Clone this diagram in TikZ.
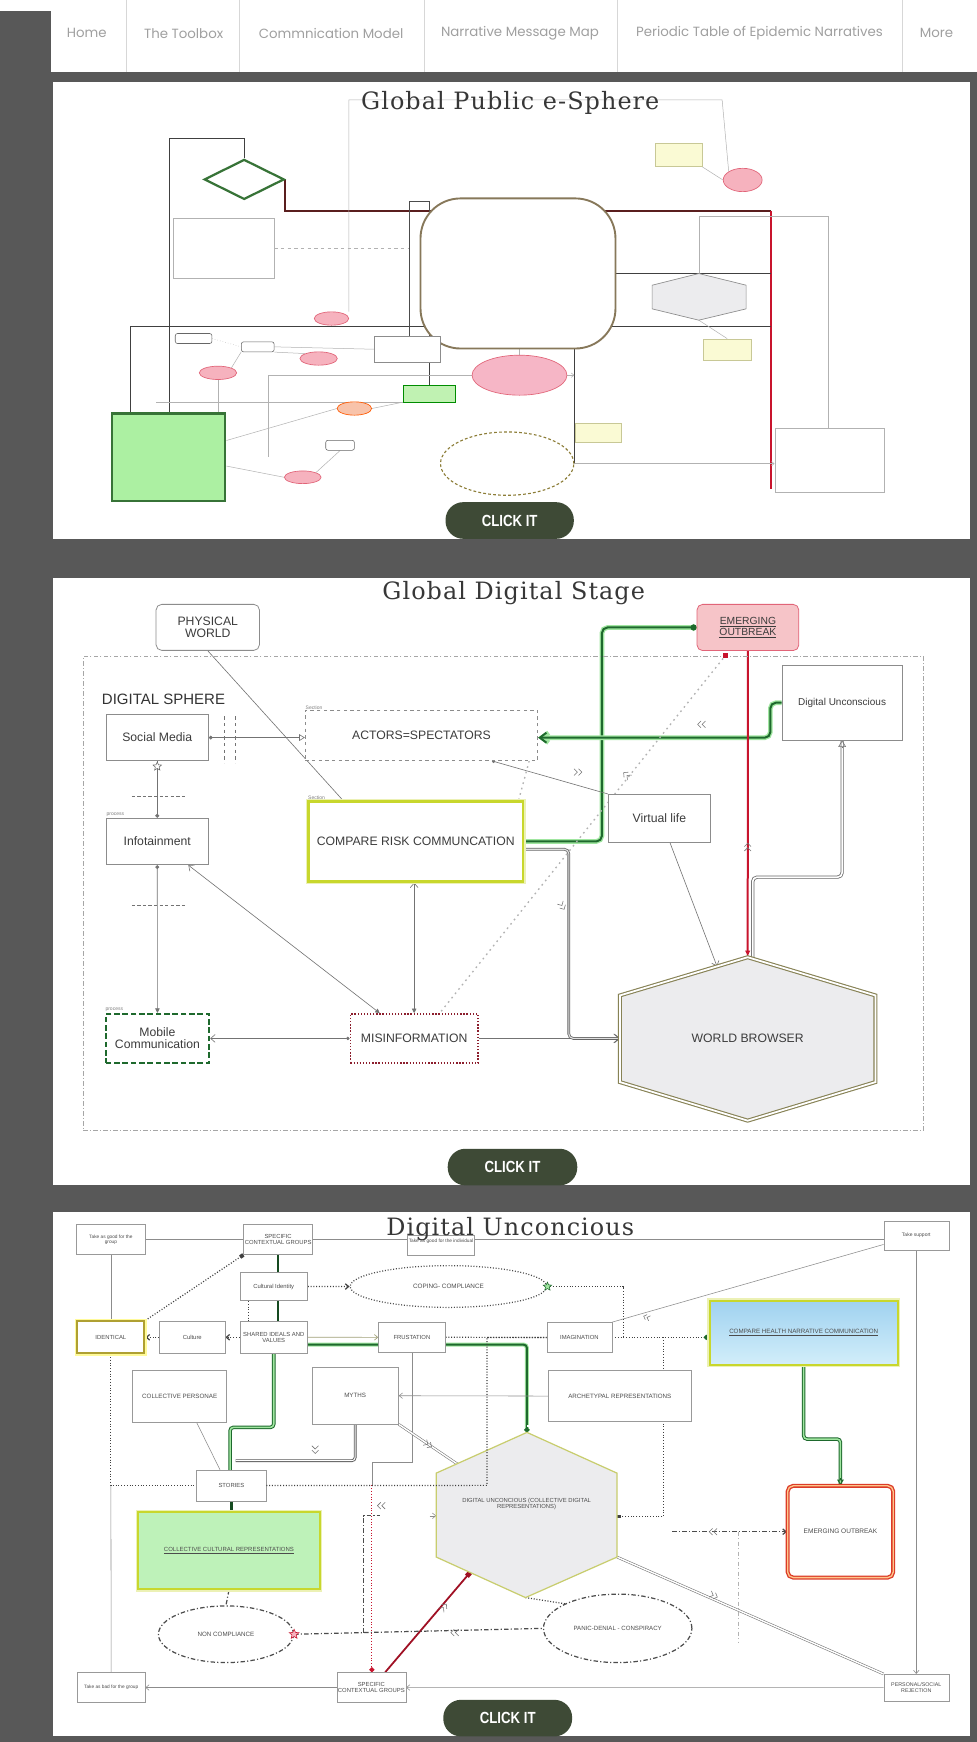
\documentclass[tikz,border=0pt]{standalone}
\usepackage{fontspec}
\usepackage{graphicx}
\setmainfont{Liberation Sans}
\newfontfamily\titlefont[LetterSpace=4.5]{DejaVu Serif}
\newfontfamily\navfont{Poppins}
\usetikzlibrary{arrows.meta,shapes.geometric,calc}
\pgfdeclarelayer{back}
\pgfdeclarelayer{lines}
\pgfsetlayers{back,lines,main}
\newcommand\fsz[1]{\fontsize{#1}{#1}\selectfont}

\definecolor{bgdark}{RGB}{88,88,88}
\definecolor{btn}{RGB}{62,74,54}
\definecolor{navtxt}{RGB}{160,160,160}
\definecolor{navsep}{RGB}{215,215,215}
\definecolor{ttl}{RGB}{55,55,55}
\definecolor{txt}{RGB}{60,60,60}
\definecolor{dgreen}{RGB}{30,105,45}
\definecolor{lgreen}{RGB}{160,230,160}
\definecolor{p1green}{RGB}{55,115,55}
\definecolor{fillgreen}{RGB}{172,240,162}
\definecolor{gsmallf}{RGB}{192,242,178}
\definecolor{ygreen}{RGB}{200,215,45}
\definecolor{olive}{RGB}{135,130,85}
\definecolor{cylbrown}{RGB}{135,120,90}
\definecolor{dashbrown}{RGB}{140,125,55}
\definecolor{redl}{RGB}{200,20,45}
\definecolor{darkred}{RGB}{90,30,30}
\definecolor{pinkf}{RGB}{246,178,190}
\definecolor{pinkbig}{RGB}{246,182,198}
\definecolor{pinkd}{RGB}{225,100,120}
\definecolor{pinkE}{RGB}{246,196,200}
\definecolor{orangef}{RGB}{248,195,170}
\definecolor{yelf}{RGB}{250,250,212}
\definecolor{yeld}{RGB}{200,200,150}
\definecolor{hexf}{RGB}{236,236,238}
\definecolor{hexedge}{RGB}{200,205,110}
\definecolor{dred}{RGB}{140,30,45}
\definecolor{blueT}{RGB}{160,210,240}
\definecolor{blueB}{RGB}{210,238,250}
\definecolor{ccrf}{RGB}{190,242,185}
\definecolor{idedge}{RGB}{175,160,50}

\tikzset{
  navitem/.style={font=\navfont\fsz{12}, text=navtxt, inner sep=0},
  navsepline/.style={draw=navsep, line width=0.6},
  ptitle/.style={font=\titlefont\fsz{21.5}, text=ttl, anchor=base, inner sep=0},
  clickbtn/.style={fill=btn, rounded corners=16, inner sep=0, font=\bfseries\fsz{14.5}, text=white},
  p1box/.style={draw=black!30, line width=0.5, fill=white, inner sep=0},
  yelbox/.style={draw=yeld, line width=0.5, fill=yelf, inner sep=0},
  redell/.style={ellipse, draw=pinkd, line width=0.6, fill=pinkf, inner sep=0},
  wsmall/.style={draw=black!60, line width=0.5, fill=white, rounded corners=2, inner sep=0},
  p1dark/.style={draw=black!75, line width=0.7},
  p1gray/.style={draw=black!30, line width=0.45},
  p1thick/.style={draw=darkred, line width=1.8},
  redthick/.style={draw=redl, line width=1.8},
  p2box/.style={draw=black!45, line width=0.7, fill=white, inner sep=1, align=center, font=\fsz{11}, text=txt},
  tinylbl/.style={font=\fsz{4.5}, text=black!50, inner sep=0.6},
  p2line/.style={draw=black!55, line width=0.55},
  p2dbl/.style={draw=black!60, double=black!12, double distance=1, line width=0.7, rounded corners=4},
  p2dbl2/.style={draw=black!60, double=white, double distance=1.5, line width=0.7, rounded corners=4},
  p2dot/.style={draw=black!30, line width=1.2, dash pattern=on 1.5pt off 3.5pt},
  gline/.style={draw=dgreen, line width=1.8, rounded corners=5, preaction={draw=lgreen, line width=4.2}},
  rline/.style={draw=redl, line width=1.8},
  p3box/.style={draw=black!40, line width=0.5, fill=white, inner sep=1, align=center, font=\fsz{5.3}, text=black!70},
  p3line/.style={draw=black!45, line width=0.5},
  p3dot/.style={draw=black!75, line width=1.1, dash pattern=on 0.9pt off 1.6pt},
  reddot/.style={draw=redl, line width=1.1, dash pattern=on 0.9pt off 1.6pt},
  p3dd/.style={draw=black!70, line width=1.1, dash pattern=on 4pt off 2pt on 1pt off 2pt},
  p3ddl/.style={draw=black!30, line width=0.6, dash pattern=on 4pt off 2pt on 1pt off 2pt},
  p3dbl/.style={draw=black!55, double=white, line width=0.5, double distance=1.3},
  p3dark/.style={draw=black!65, double=white, double distance=0.9, line width=0.8, rounded corners=3},
  p3yl/.style={draw=yeld!80!black, line width=0.6},
  g3dbl/.style={draw=dgreen, double=lgreen, double distance=1.4, line width=0.9, rounded corners=3},
  g3thick/.style={draw=dgreen!70!black, line width=2.4},
  gline3/.style={draw=dgreen, line width=1.8, rounded corners=3, preaction={draw=lgreen, line width=3.6}},
  redconn/.style={draw=redl!80!black, line width=1.6},
  starmark/.style={star, star points=5, star point ratio=2.2, line width=0.5, inner sep=0},
  chev/.pic={\draw[black!55, line width=0.5] (-3,-3) -- (0,0) -- (-3,3) (1,-3) -- (4,0) -- (1,3);}
}

\begin{document}
\begin{tikzpicture}[x=1pt,y=-1pt]
\useasboundingbox (0,0) rectangle (879,1568);

% page background, menu bar and the three white panels
\begin{pgfonlayer}{back}
\fill[bgdark] (0,0) rectangle (879,1568);
\fill[white] (0,0) rectangle (879,10);
\fill[white] (46,0) rectangle (879,65);
\fill[white] (48,73.5) rectangle (873,485);
\fill[white] (48,520.5) rectangle (873,1067);
\fill[white] (48,1091) rectangle (873,1563);
\foreach \sx in {113.8,215.8,382.2,556,812} \draw[navsepline] (\sx,0) -- (\sx,65);
\end{pgfonlayer}

% ---------- menu ----------
\node[navitem] (nav1) at (78,30) {Home};
\node[navitem] (nav2) at (165.3,30) {The Toolbox};
\node[navitem] (nav3) at (298,30) {Commnication Model};
\node[navitem] (nav4) at (468,30) {Narrative Message Map};
\node[navitem] (nav5) at (683.6,30) {Periodic Table of Epidemic Narratives};
\node[navitem] (nav6) at (843,30) {More};

% ================= Global Public e-Sphere =================
\node[p1box, minimum width=90.6, minimum height=54.1] (sq1) at (201.3,223.65) {};
\node[draw=black!70, line width=0.6, minimum width=18, minimum height=123.1, inner sep=0] (nrw) at (377.2,243.15) {};
\node[draw=cylbrown, line width=1.7, fill=white, rounded corners=36, minimum width=175.5, minimum height=135.1, inner sep=0] (cyl) at (466.25,246.15) {};
\node[diamond, aspect=2, draw=p1green, line width=2, fill=white, minimum width=72, minimum height=36, inner sep=0] (dia) at (219.8,161.5) {};
\node[redell, minimum width=35, minimum height=21] (rtop) at (668.5,162) {};
\node[yelbox, minimum width=42, minimum height=21] (y1) at (611,139.5) {};
\coordinate (hp1T) at (629,246.2);
\coordinate (hp1B) at (629,288.2);
\draw[draw=black!45, line width=0.6, fill=hexf] (hp1T) -- (671.6,256.7) -- (671.6,278) -- (hp1B) -- (587,278) -- (587,256.7) -- cycle;
\node[yelbox, minimum width=43, minimum height=19] (y2) at (654.5,314.5) {};
\node[yelbox, minimum width=41, minimum height=17] (y3) at (538.5,389.5) {};
\node[p1box, minimum width=98.2, minimum height=57] (rbox) at (746.6,414.3) {};
\node[ellipse, draw=dashbrown, line width=1, dash pattern=on 2.5pt off 2pt, fill=white, minimum width=120, minimum height=57, inner sep=0] (dcirc) at (456.5,417.3) {};
\node[redell, fill=pinkbig, minimum width=85.4, minimum height=36] (pbig) at (467.6,337.7) {};
\node[p1box, draw=black!45, minimum width=59.6, minimum height=22.7] (wrect) at (366.8,314.35) {};
\node[draw=green!55!black, line width=0.6, fill=gsmallf, minimum width=46.5, minimum height=15, inner sep=0] (gs) at (386.25,354.2) {};
\node[draw=p1green, line width=2.2, fill=fillgreen, minimum width=101.7, minimum height=79, inner sep=0] (gbig) at (151.85,411.5) {};
\node[redell, minimum width=31, minimum height=12] (e1) at (298.4,286.7) {};
\node[redell, minimum width=33.6, minimum height=12] (e2) at (286.8,322.7) {};
\node[redell, minimum width=33.6, minimum height=12] (e3) at (196.2,335.6) {};
\node[redell, fill=orangef, draw=orange!70!red, minimum width=31, minimum height=12] (e4) at (319,367.7) {};
\node[redell, minimum width=33, minimum height=11.4] (e5) at (272.5,429.6) {};
\node[wsmall, minimum width=33, minimum height=9] (w1) at (174.25,304.7) {};
\node[wsmall, minimum width=29.5, minimum height=9] (w2) at (232,312.2) {};
\node[wsmall, minimum width=25.8, minimum height=9] (w3) at (306.1,400.8) {};

\coordinate (k1) at (152.5,124.6);
\coordinate (k2) at (694,189.7);
\coordinate (k3) at (694,440);
\coordinate (k4) at (117.4,294.2);
\coordinate (k5) at (694,294.2);
\coordinate (k6) at (314,90);
\coordinate (k7) at (650,90);
\coordinate (k8) at (629,195);
\coordinate (k9) at (745.5,195);
\coordinate (k10) at (241.5,337.7);
\coordinate (k11) at (241.5,411.3);

\begin{pgfonlayer}{lines}
\draw[p1dark] (dia.north) |- (k1) -- (k1 |- gbig.north);
\draw[p1thick] (dia.east) |- (k2);
\draw[redthick] (k2) -- (k3);
\draw[p1dark] (k4 |- gbig.north) -- (k4) -- (k5);
\draw[p1dark] (cyl.east) -- (cyl.east -| k2);
\draw[p1gray] (k6 |- e1.north) -- (k6) -- (k7) -- (rtop.north west);
\draw[p1gray] (hp1T) -- (k8) -- (k9) -- (k9 |- rbox.north);
\draw[p1dark] (nrw.south east) -- (nrw.south east |- gs.north);
\draw[p1gray] (pbig.west) -- (k10) -- (k11);
\draw[p1gray] (gs.south west) -- ++(-222.3,0);
\draw[p1dark] (dcirc.east |- cyl.south) -- (dcirc.east);
\draw[p1gray, -{Straight Barb[length=2.5,width=4]}] (pbig.east) -- (pbig.east -| dcirc.east);
\draw[p1gray, -{Straight Barb[length=2.5,width=4]}] (dcirc.east) -- (dcirc.east -| rbox.west);
\draw[p1gray] (cyl.south -| pbig.north) -- (pbig.north);
\draw[p1gray] (y1.south east) -- (rtop.west);
\draw[p1gray] (hp1B) -- (y2.north);
\draw[p1gray] (w2.east) -- (wrect.west);
\draw[p1gray, dotted] (w1.east) -- (w2.west);
\draw[p1gray] (w2.south east) -- (e2.north west);
\draw[p1gray] (e3.north east) -- (w2.south west);
\draw[p1gray] (e3.south) -- (e3.south |- gbig.north);
\draw[p1gray] ([yshift=15pt]gbig.east) -- (e4.west);
\draw[p1gray] ([yshift=-8pt]gbig.east) -- (e5.west);
\draw[p1gray] (e4.east) -- (gs.south west);
\draw[p1gray] (e5.north east) -- (w3.south);
\draw[p1gray, dashed] (sq1.east) -- (sq1.east -| nrw.west);
\end{pgfonlayer}

\node[ptitle] (t1) at (459.3,99) {Global Public e-Sphere};
\node[clickbtn, minimum width=115.5, minimum height=33] (btn1) at (458.75,468.5) {\scalebox{0.82}[1]{CLICK IT}};

% ================= Global Digital Stage =================
\node[draw=black!35, line width=0.5, dash pattern=on 4pt off 2pt on 1pt off 2pt, minimum width=756, minimum height=427.2, inner sep=0] (dsbox) at (453,804.1) {};
\node[p2box, rounded corners=5, minimum width=93, minimum height=41.4] (phys) at (187,564.7) {PHYSICAL\\WORLD};
\node[font=\fsz{13.5}, anchor=west, text=black!80, inner sep=0] (dsph) at (91.6,629.5) {DIGITAL SPHERE};
\node[p2box, minimum width=92.1, minimum height=41.2] (smedia) at (141.55,663.9) {Social Media};
\node[p2box, dashed, minimum width=209.3, minimum height=45.1] (actors) at (379.35,662) {ACTORS=SPECTATORS};
\node[p2box, minimum width=92.1, minimum height=42] (info) at (141.55,757.4) {Infotainment};
\node[p2box, draw=ygreen, line width=2.2, preaction={draw=ygreen!35, line width=5}, minimum width=193, minimum height=72] (crc) at (374.2,757.4) {COMPARE RISK COMMUNCATION};
\node[p2box, minimum width=92, minimum height=43] (vlife) at (593.5,736.5) {Virtual life};
\node[p2box, font=\fsz{9}, minimum width=108, minimum height=67] (dunc) at (758,632.5) {Digital Unconscious};
\node[p2box, fill=pinkE, draw=pinkd, rounded corners=5, font=\fsz{9.3}, minimum width=91.6, minimum height=41.6] (emerg) at (673.2,564.8) {\underline{EMERGING}\\\underline{OUTBREAK}};
\node[p2box, draw=dgreen, line width=2, dash pattern=on 5pt off 2.5pt, minimum width=93, minimum height=44] (mobile) at (141.7,934.7) {Mobile\\Communication};
\node[p2box, draw=dred, line width=1.6, dash pattern=on 1.2pt off 1.6pt, minimum width=114.8, minimum height=44] (misinfo) at (372.8,934.7) {MISINFORMATION};
\node[tinylbl, anchor=south west] (lb1) at (actors.north west) {Section};
\node[tinylbl, anchor=south west] (lb2) at (crc.north west) {Section};
\node[tinylbl, anchor=south west] (lb3) at (info.north west) {process};
\node[tinylbl, anchor=south west] (lb4) at (mobile.north west) {process};

\coordinate (wbT) at (673,861.6);
\coordinate (wbUR) at (788,896);
\coordinate (wbLR) at (788,974);
\coordinate (wbB) at (673,1008.7);
\coordinate (wbLL) at (558,974);
\coordinate (wbUL) at (558,896);
\coordinate (wbL) at (558,934.7);
\draw[draw=olive, double=white, double distance=1.6, line width=1, fill=hexf] (wbT) -- (wbUR) -- (wbLR) -- (wbB) -- (wbLL) -- (wbUL) -- cycle;
\node[font=\fsz{11}, text=txt] (wb) at (673,934.7) {WORLD BROWSER};

\coordinate (g1) at (512,764.4);
\coordinate (g2) at (541.8,564.8);
\coordinate (g3) at (693.4,664);
\coordinate (g4) at (677.5,789.5);
\coordinate (dsh1) at (118.6,716.7);
\coordinate (dsh2) at (118.6,815);

\begin{pgfonlayer}{lines}
\draw[p2line] (phys.south) -- ([xshift=32pt]crc.north west);
\draw[p2line, {Circle[length=3.5]}-{Triangle[open,length=5,width=6]}] (smedia.east) -- (smedia.east -| actors.west);
\draw[p2line, dashed] ([xshift=13.5pt,yshift=19pt]smedia.east) -- ([xshift=13.5pt,yshift=-23pt]smedia.east);
\draw[p2line, dashed] ([xshift=24pt,yshift=19pt]smedia.east) -- ([xshift=24pt,yshift=-23pt]smedia.east);
\draw[p2line, {Circle[length=3.5]}-] (info.north) -- (smedia.south);
\draw[p2line, dash pattern=on 3pt off 2pt] (dsh1) -- ++(48,0);
\draw[p2line, dash pattern=on 3pt off 2pt] (dsh2) -- ++(48,0);
\draw[p2line, {Circle[length=3.5]}-{Triangle[length=4,width=4]}] (info.south) -- (mobile.north);
\draw[p2line, {Triangle[length=4,width=4]}-{Straight Barb[length=4,width=7]}] ([xshift=-31pt]misinfo.north) -- ([xshift=28pt]info.south);
\draw[p2line, {Triangle[length=4,width=4]}-{Straight Barb[length=4,width=7]}] (misinfo.north) -- (misinfo.north |- crc.south);
\draw[p2line, {Circle[length=3]}-{Straight Barb[length=4,width=7]}] (misinfo.west) -- (mobile.east);
\draw[p2line, -{Straight Barb[length=4,width=7]}] (misinfo.east) -- (wbL);
\draw[p2dbl, -{Straight Barb[length=5,width=8]}] ([yshift=-7pt]crc.east) -- (g1) |- (wbL);
\draw[gline, -{Circle[length=5.5]}] (crc.east) -| (g2) -- (emerg.west);
\draw[gline, -{Straight Barb[length=6,width=9]}] (dunc.west) -| (g3) -- (g3 -| actors.east);
\draw[p2dbl2] (dunc.south) |- (g4) -- (g4 |- wbT);
\draw[p2line, -{Triangle[open,length=6,width=7]}] ([yshift=-7pt]dunc.south) -- (dunc.south);
\draw[rline, -{Latex[length=6,width=5]}] (emerg.south) -- (wbT);
\draw[p2dot] ([xshift=-8pt]actors.south east) -- ([xshift=-5pt]crc.north east);
\draw[p2line, -{Circle[length=3]}] (vlife.north west) -- ([xshift=63.5pt]actors.south);
\draw[p2line, -{Straight Barb[length=4,width=7]}] ([xshift=9.5pt]vlife.south) -- ($(wbUL)!0.76!(wbT)$);
\end{pgfonlayer}
\node[fill=redl, minimum size=5, inner sep=0] (rsq) at (653,590) {};
\begin{pgfonlayer}{lines}
\draw[p2dot] (rsq) -- ([xshift=23pt]misinfo.north);
\end{pgfonlayer}
\node[starmark, draw=black!60, fill=white, minimum size=8] (st1) at ([yshift=-5pt]smedia.south) {};
\pic[rotate=180] at (632,652) {chev};
\pic at (519.7,695) {chev};
\pic[rotate=140] at (564.4,698) {chev};
\pic[rotate=90] at (673,763) {chev};
\pic[rotate=-60] at (505.8,815) {chev};

\node[ptitle] (t2) at (462.4,539.5) {Global Digital Stage};
\node[clickbtn, minimum width=116.6, minimum height=33] (btn2) at (461.3,1050.5) {\scalebox{0.82}[1]{CLICK IT}};

% ================= Digital Unconcious =================
\node[p3box, font=\fsz{4.3}, minimum width=61.6, minimum height=27] (goodgrp) at (99.8,1115.8) {Take as good for the\\group};
\node[p3box, minimum width=60.7, minimum height=27] (scgT) at (250.35,1115.8) {SPECIFIC\\CONTEXTUAL GROUPS};
\node[p3box, font=\fsz{4.3}, minimum width=58.6, minimum height=17.8, text depth=9] (goodind) at (397,1121.1) {Take as good for the individual};
\node[p3box, font=\fsz{4.5}, minimum width=58.5, minimum height=25.7] (support) at (824.75,1112.15) {Take support};
\node[p3box, minimum width=60.8, minimum height=25.5] (cultid) at (246.4,1158.05) {Cultural Identity};
\node[p3box, draw=idedge, line width=1.8, preaction={draw=yellow!40, line width=4.5}, minimum width=60.4, minimum height=28.6] (identical) at (99.8,1203.7) {IDENTICAL};
\node[p3box, minimum width=59.1, minimum height=28.6] (culture) at (173.05,1203.7) {Culture};
\node[p3box, minimum width=60.8, minimum height=28.6] (shared) at (246.4,1203.7) {SHARED IDEALS AND\\VALUES};
\node[p3box, minimum width=60.1, minimum height=27.5] (frust) at (370.75,1203.75) {FRUSTATION};
\node[p3box, minimum width=58.5, minimum height=27] (imag) at (521.55,1203.8) {IMAGINATION};
\node[p3box, draw=ygreen, line width=1.8, preaction={draw=ygreen!35, line width=4.5}, top color=blueT, bottom color=blueB, font=\fsz{5.6}, minimum width=169.2, minimum height=57.6] (chnc) at (723.4,1199.6) {\underline{COMPARE HEALTH NARRATIVE COMMUNICATION}};
\node[p3box, font=\fsz{5.6}, minimum width=84.6, minimum height=46.5] (personae) at (161.8,1257.05) {COLLECTIVE PERSONAE};
\node[p3box, font=\fsz{5.6}, minimum width=78, minimum height=51] (myths) at (319.7,1256.3) {MYTHS};
\node[p3box, font=\fsz{5.6}, minimum width=128.2, minimum height=45.6] (arche) at (557.9,1256.6) {ARCHETYPAL REPRESENTATIONS};
\node[p3box, minimum width=62.4, minimum height=27.7] (stories) at (208.3,1337.05) {STORIES};
\node[p3box, draw=ygreen, line width=1.8, preaction={draw=ygreen!35, line width=4.5}, fill=ccrf, font=\fsz{5.4}, minimum width=163, minimum height=69] (ccr) at (206.1,1395.9) {\underline{COLLECTIVE CULTURAL REPRESENTATIONS}};
\node[p3box, draw={rgb,255:red,220;green,60;blue,40}, double=orange!45, double distance=1.2, line width=1.2, rounded corners=5, font=\fsz{5.9}, minimum width=95, minimum height=82.6] (emerg3) at (756.5,1378.7) {EMERGING OUTBREAK};
\node[p3box, ellipse, draw=black!70, line width=1.1, dash pattern=on 0.9pt off 1.6pt, font=\fsz{5.7}, minimum width=177, minimum height=37.6] (coping) at (403.7,1158) {COPING- COMPLIANCE};
\node[p3box, ellipse, draw=black!70, line width=1.1, dash pattern=on 4pt off 2pt on 1pt off 2pt, font=\fsz{5.6}, minimum width=121.6, minimum height=51] (noncomp) at (203.4,1471) {NON COMPLIANCE};
\node[p3box, ellipse, draw=black!70, line width=1.1, dash pattern=on 4pt off 2pt on 1pt off 2pt, font=\fsz{5.5}, minimum width=133.6, minimum height=61.6] (panic) at (556,1465.7) {PANIC-DENIAL - CONSPIRACY};
\node[p3box, font=\fsz{4.3}, minimum width=61, minimum height=27.1] (badgrp) at (100.1,1518.95) {Take as bad for the group};
\node[p3box, minimum width=59.1, minimum height=27.1] (scgB) at (334.25,1518.95) {SPECIFIC\\CONTEXTUAL GROUPS};
\node[p3box, font=\fsz{4.8}, minimum width=58.5, minimum height=24] (reject) at (824.75,1519) {PERSONAL/SOCIAL\\REJECTION};

\coordinate (h3T) at (474.3,1289.3);
\coordinate (h3UR) at (555.4,1326);
\coordinate (h3LR) at (555.4,1401.5);
\coordinate (h3B) at (473,1438);
\coordinate (h3LL) at (392.6,1401.5);
\coordinate (h3UL) at (392.6,1326);
\coordinate (h3L) at (392.6,1364.4);
\coordinate (h3R) at (555.4,1365);
\draw[draw=hexedge, line width=1.1, fill=hexf] (h3T) -- (h3UR) -- (h3LR) -- (h3B) -- (h3LL) -- (h3UL) -- cycle;
\node[font=\fsz{5.3}, text=black!70, align=center] (h3txt) at (474,1354) {DIGITAL UNCONCIOUS (COLLECTIVE DIGITAL\\REPRESENTATIONS)};

\coordinate (c3b) at (561,1203.8);
\coordinate (c3c) at (597.4,1203.8);
\coordinate (c3d) at (438.3,1337);
\coordinate (c3f) at (207.1,1284.8);
\coordinate (c3g) at (334.7,1316);
\coordinate (c3h) at (342.2,1395.9);
\coordinate (c3i) at (327.2,1469.5);
\coordinate (c3k) at (212,1314.8);
\coordinate (c3m) at (605,1378.7);
\coordinate (c3n) at (665,1378.7);
\coordinate (c3o) at (756.5,1295.3);
\coordinate (c3p) at (474.3,1283.5);
\coordinate (c3q) at (558.4,1283.5);

\begin{pgfonlayer}{lines}
\draw[p3line] (goodgrp.east) -- (goodgrp.east -| support.west);
\draw[p3line] (goodgrp.south) -- (identical.north);
\draw[p3dot] (identical.south) |- (stories.west);
\draw[p3line] (identical.south |- stories.west) -- (badgrp.north);
\draw[p3line, -{Straight Barb[length=3,width=5]}] (scgB.west) -- (badgrp.east);
\draw[p3line, -{Straight Barb[length=3,width=5]}] (reject.west) -- (scgB.east);
\draw[p3line, -{Straight Barb[length=3,width=5]}] (support.south) -- (reject.north);
\draw[p3line] ([yshift=-8pt]support.west) -- (imag.north east);
\draw[p3dot, -{Straight Barb[length=3,width=5]}] (cultid.east) -- (coping.west);
\draw[p3dot] (coping.east) -| (c3b);
\draw[p3dot, -{Circle[length=4.5,color=dgreen]}] (imag.east) -- (imag.east -| chnc.west);
\draw[p3dot, -{Square[length=3.5,width=3.5]}] (c3c) |- (h3R);
\draw[p3dot, -{Square[length=3.5,width=3.5]}] (identical.north east) -- (scgT.south west);
\draw[p3dot, -{Straight Barb[length=3,width=5]}] (culture.west) -- (identical.east);
\draw[p3dot, -{Straight Barb[length=3,width=5]}] (shared.west) -- (culture.east);
\draw[p3dot] ([xshift=-23pt]cultid.south) -- ([xshift=-23pt]shared.north);
\draw[p3dot] (frust.east) -- (imag.west);
\draw[g3dbl] (shared.south) |- (c3f) -- (c3f |- stories.north);
\draw[g3thick] (scgT.south) -- (scgT.south |- cultid.north);
\draw[g3thick] (scgT.south |- cultid.south) -- (scgT.south |- shared.north);
\draw[p3yl, -{Straight Barb[length=3,width=5]}] (shared.east) -- (frust.west);
\draw[gline3, -{Circle[length=4.5]}] ([yshift=-6.6pt]shared.east) -| (h3T);
\draw[p3line, -{Straight Barb[length=3,width=5]}] (arche.west) -- (myths.east);
\draw[p3line] (frust.south) |- (c3g) -- (c3g |- stories.east);
\draw[reddot, -{Circle[length=4.5]}] (c3g |- stories.east) -- (c3g |- scgB.north);
\draw[p3dbl] (ccr.east) -- (c3h) |- (h3L);
\draw[p3line, -{Straight Barb[length=3,width=5]}] ([xshift=-6pt]h3L) -- (h3L);
\draw[p3dd] (c3i) |- (c3h |- h3L);
\draw[redconn, {Square[length=4.5,width=4.5]}-] ($(h3LL)!0.38!(h3B)$) -- ([xshift=12.5pt]scgB.north);
\draw[p3dbl] (myths.south east) -- ($(h3UL)!0.23!(h3T)$);
\draw[p3dark] (myths.south) |- (c3k);
\draw[p3line] ([xshift=15.3pt]personae.south) -- ([xshift=-10.3pt]stories.north);
\draw[g3thick] (stories.south) -- (stories.south |- ccr.north);
\draw[p3dd] (ccr.south) -- (noncomp.north);
\draw[p3dot] (h3B) -- (panic.north west);
\draw[p3dd] (noncomp.east) -- (panic.west);
\draw[p3dd, -{Straight Barb[length=3,width=5]}] (c3m) -- (emerg3.west);
\draw[p3ddl] (c3n) -- ++(0,99.5);
\draw[p3dbl] (h3LR) -- (reject.north west);
\draw[g3dbl] (chnc.south) |- (c3o) -- (emerg3.north);
\draw[dgreen, line width=0.8, -{Triangle[open,length=5,width=6]}] ([yshift=6pt]emerg3.north) -- (emerg3.north);
\draw[p3dbl] (c3p) -- (c3q);
\end{pgfonlayer}
% dotted link drawn across the hexagon
\draw[p3dot] (stories.east) -- (c3d) |- (imag.west);
\node[starmark, draw=dgreen, fill=lgreen, minimum size=8] (st2) at (coping.east) {};
\node[starmark, draw=redl, fill=pinkf, minimum size=9] (st3) at (noncomp.east) {};
\pic[rotate=160, scale=0.8] at (582.4,1185.8) {chev};
\pic[rotate=-33] at (385,1300) {chev};
\pic[rotate=-90] at (283.7,1304.3) {chev};
\pic[rotate=180] at (343.7,1355.3) {chev};
\pic[rotate=180] at (409.8,1469.5) {chev};
\pic[rotate=180] at (642.4,1378.7) {chev};
\pic[rotate=-23] at (642,1436) {chev};
\pic[rotate=50] at (399.2,1447) {chev};

\node[ptitle] (t3) at (459.3,1112.2) {Digital Unconcious};
\node[clickbtn, minimum width=116, minimum height=33] (btn3) at (457,1546.5) {\scalebox{0.82}[1]{CLICK IT}};
\end{tikzpicture}
\end{document}
